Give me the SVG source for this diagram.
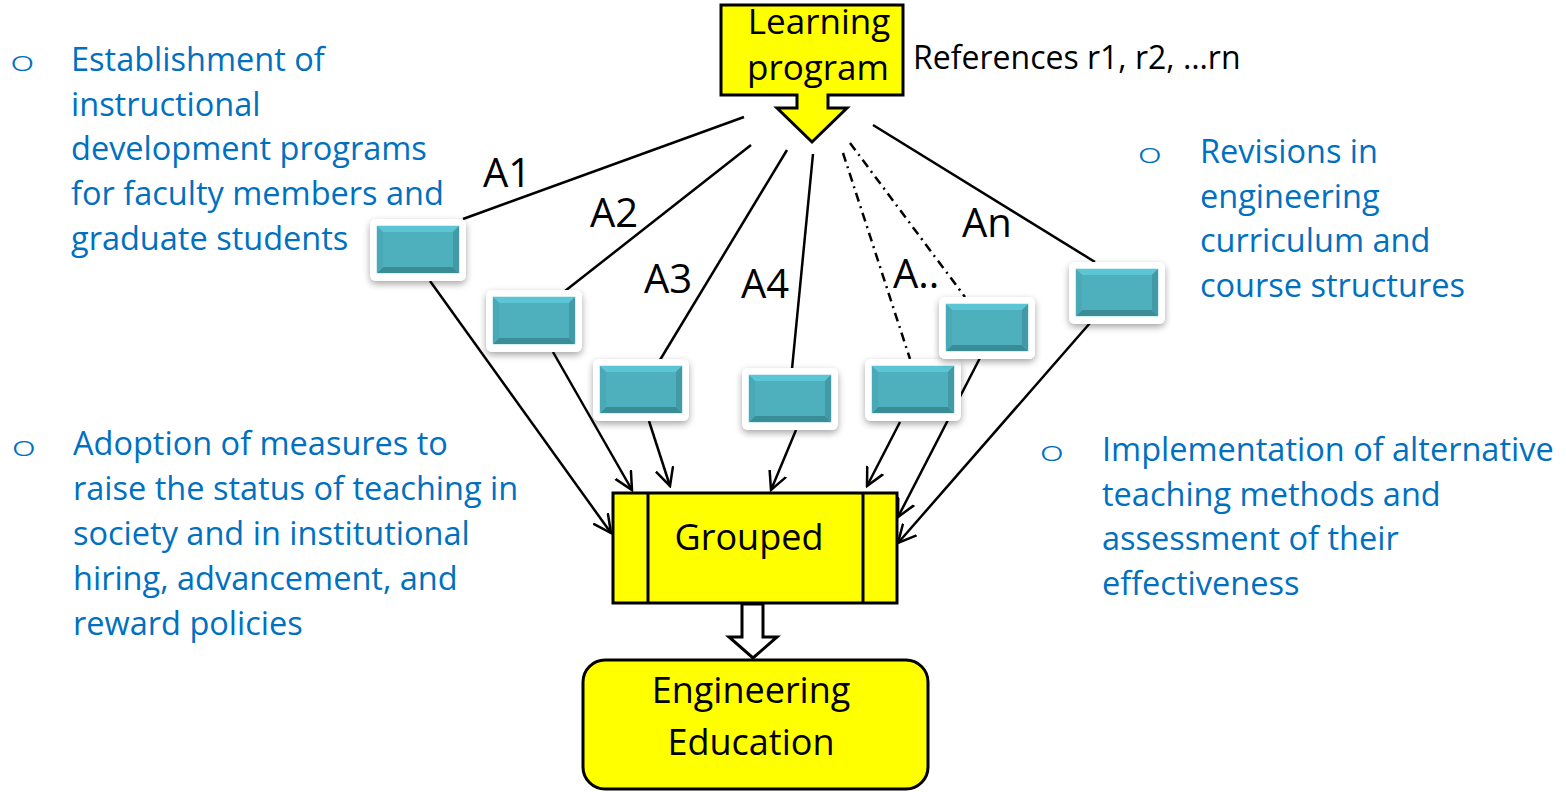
<svg xmlns="http://www.w3.org/2000/svg" xmlns:xlink="http://www.w3.org/1999/xlink" width="1566" height="792" viewBox="0 0 1566 792">
<style>
  text { font-family: 'Open Sans', 'Liberation Sans', sans-serif; }
  .blue { fill: #0070C0; font-size: 32.5px; }
  .bul { fill: #0070C0; font-family: 'Open Sans', sans-serif; font-weight: 300; font-size: 28px; }
  .blk { fill: #000; }
  .lbl { fill: #000; font-size: 40px; }
  .ybox { fill: #FFFF00; stroke: #000; stroke-width: 3; }
  .conn { fill: none; stroke: #000; stroke-width: 2.5; }
  .dd { stroke-dasharray: 9 5 2 5; }
</style>
<defs>
  <filter id="sh" x="-20%" y="-20%" width="140%" height="150%">
    <feDropShadow dx="0" dy="3" stdDeviation="3.5" flood-color="#000" flood-opacity="0.35"/>
  </filter>
  <marker id="arr" viewBox="0 0 20 20" refX="18" refY="10" markerWidth="20" markerHeight="20" markerUnits="userSpaceOnUse" orient="auto">
    <path d="M0,1 L18,10 L0,19" fill="none" stroke="#000" stroke-width="2.5"/>
  </marker>
  <g id="tile">
    <rect x="0" y="0" width="96" height="62" rx="6" fill="#fff" filter="url(#sh)"/>
    <rect x="7" y="7" width="82" height="47" fill="#4EB0BD" stroke="#A6E0E8" stroke-width="1"/>
    <polygon points="7,7 89,7 83,13 13,13" fill="#5CC5D5"/>
    <polygon points="7,54 89,54 83,48 13,48" fill="#3A8C97"/>
    <polygon points="7,7 13,13 13,48 7,54" fill="#4AA9B6"/>
    <polygon points="89,7 83,13 83,48 89,54" fill="#4399A5"/>
  </g>
</defs>
<rect width="1566" height="792" fill="#fff"/>

<g id="connectors">
  <line class="conn" x1="744" y1="117" x2="463" y2="219"/>
  <line class="conn" x1="751" y1="145" x2="565" y2="291"/>
  <line class="conn" x1="787" y1="150" x2="660" y2="360"/>
  <line class="conn" x1="813" y1="154" x2="792" y2="369"/>
  <line class="conn dd" x1="843" y1="153" x2="910" y2="359"/>
  <line class="conn dd" x1="850" y1="143" x2="965" y2="297"/>
  <line class="conn" x1="873" y1="125" x2="1095" y2="262"/>

  <line class="conn" x1="430" y1="281" x2="611" y2="533" marker-end="url(#arr)"/>
  <line class="conn" x1="553" y1="352" x2="632" y2="490" marker-end="url(#arr)"/>
  <line class="conn" x1="649" y1="421" x2="670" y2="486" marker-end="url(#arr)"/>
  <line class="conn" x1="796" y1="430" x2="771" y2="490" marker-end="url(#arr)"/>
  <line class="conn" x1="900" y1="422" x2="867" y2="486" marker-end="url(#arr)"/>
  <line class="conn" x1="982" y1="354" x2="898" y2="517" marker-end="url(#arr)"/>
  <line class="conn" x1="1090" y1="323" x2="898" y2="543" marker-end="url(#arr)"/>

  <polygon points="742,604 763,604 763,637 777,637 753,658 729,637 742,637" fill="#fff" stroke="#000" stroke-width="3"/>
</g>

<g id="learning-program">
  <polygon class="ybox" points="721,5 903,5 903,95 828,95 828,108 847,108 812,142 777,108 797,108 797,95 721,95"/>
  <text class="blk" x="819" y="34" font-size="35" text-anchor="middle">Learning</text>
  <text class="blk" x="818" y="80" font-size="35" text-anchor="middle">program</text>
</g>

<g id="references">
  <text class="blk" x="913" y="69" font-size="32">References r1, r2, …rn</text>
</g>

<g id="labels">
  <text class="lbl" x="483" y="187">A1</text>
  <text class="lbl" x="590" y="227">A2</text>
  <text class="lbl" x="644" y="293">A3</text>
  <text class="lbl" x="741" y="298">A4</text>
  <text class="lbl" x="893" y="288">A..</text>
  <text class="lbl" x="962" y="237">An</text>
</g>

<g id="box1"><use xlink:href="#tile" x="370" y="219"/></g>
<g id="box2"><use xlink:href="#tile" x="486" y="290"/></g>
<g id="box3"><use xlink:href="#tile" x="593" y="359"/></g>
<g id="box4"><use xlink:href="#tile" x="742" y="368"/></g>
<g id="box5"><use xlink:href="#tile" x="865" y="359"/></g>
<g id="box6"><use xlink:href="#tile" x="939" y="297"/></g>
<g id="box7"><use xlink:href="#tile" x="1069" y="262"/></g>

<g id="grouped">
  <rect class="ybox" x="613" y="493" width="284" height="110"/>
  <line x1="648" y1="493" x2="648" y2="603" stroke="#000" stroke-width="3"/>
  <line x1="863" y1="493" x2="863" y2="603" stroke="#000" stroke-width="3"/>
  <text class="blk" x="749" y="550" font-size="36" text-anchor="middle">Grouped</text>
</g>

<g id="engineering-education">
  <rect class="ybox" x="583" y="660" width="345" height="129" rx="22"/>
  <text class="blk" x="751" y="703" font-size="36" text-anchor="middle">Engineering</text>
  <text class="blk" x="751" y="755" font-size="36" text-anchor="middle">Education</text>
</g>

<g id="text-top-left">
  <text class="bul" transform="translate(10,71) scale(1.5,1)">o</text>
  <text class="blue" x="71" y="71">Establishment of</text>
  <text class="blue" x="71" y="116">instructional</text>
  <text class="blue" x="71" y="160">development programs</text>
  <text class="blue" x="71" y="205">for faculty members and</text>
  <text class="blue" x="71" y="250">graduate students</text>
</g>

<g id="text-bottom-left">
  <text class="bul" transform="translate(11.5,456) scale(1.5,1)">o</text>
  <text class="blue" x="73" y="455">Adoption of measures to</text>
  <text class="blue" x="73" y="500">raise the status of teaching in</text>
  <text class="blue" x="73" y="545">society and in institutional</text>
  <text class="blue" x="73" y="590">hiring, advancement, and</text>
  <text class="blue" x="73" y="635">reward policies</text>
</g>

<g id="text-top-right">
  <text class="bul" transform="translate(1137.5,163) scale(1.5,1)">o</text>
  <text class="blue" x="1200" y="163">Revisions in</text>
  <text class="blue" x="1200" y="208">engineering</text>
  <text class="blue" x="1200" y="252">curriculum and</text>
  <text class="blue" x="1200" y="297">course structures</text>
</g>

<g id="text-bottom-right">
  <text class="bul" transform="translate(1039.5,460.5) scale(1.5,1)">o</text>
  <text class="blue" x="1102" y="461">Implementation of alternative</text>
  <text class="blue" x="1102" y="506">teaching methods and</text>
  <text class="blue" x="1102" y="550">assessment of their</text>
  <text class="blue" x="1102" y="595">effectiveness</text>
</g>
</svg>
